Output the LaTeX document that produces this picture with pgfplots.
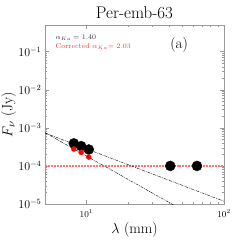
\documentclass[border=0pt]{standalone}
\usepackage{pgfplots}
\pgfplotsset{compat=1.18}
\begin{document}
\begin{tikzpicture}[x=1bp,y=1bp]
\useasboundingbox (-45,-45) rectangle (204,204);
\begin{axis}[
  at={(0,0)}, anchor=south west,
  scale only axis, width=179bp, height=179bp,
  xmode=log, ymode=log,
  xmin=5, xmax=100, ymin=1e-5, ymax=0.5,
  xtick={10,100}, ytick={1e-5,1e-4,1e-3,1e-2,1e-1},
  tick align=inside,
  major tick length=4bp, minor tick length=2bp,
  axis line style={gray!80},
  every tick/.style={gray!80, line width=0.4pt},
  xticklabel style={font=\fontsize{9}{9}\selectfont, yshift=-2bp},
  yticklabel style={font=\fontsize{12}{12}\selectfont},
  title={Per-emb-63},
  title style={font=\fontsize{17}{17}\selectfont, yshift=-3bp},
  xlabel={$\lambda$ (mm)},
  xlabel style={font=\fontsize{15}{15}\selectfont, yshift=2bp},
  ylabel={$F_\nu$ (Jy)},
  ylabel style={font=\fontsize{15}{15}\selectfont, yshift=-4.5bp},
  clip=true,
]
% horizontal dashed red line at 1e-4
\addplot[draw=red!55, line width=1.2pt, dash pattern=on 2pt off 1pt] coordinates {(5,1e-4) (100,1e-4)};
% fit lines
\addplot[black, thin, dash pattern=on 3pt off 1pt on 0.8pt off 1pt] coordinates {(5,7.3e-4) (100,1.18e-5)};
\addplot[black, thin, dash pattern=on 3pt off 1pt on 0.8pt off 1pt] coordinates {(5,7.45e-4) (100,1.7e-6)};
% black data points
\addplot[only marks, mark=*, mark size=5bp, black] coordinates {
  (8.1,3.9e-4) (9.16,3.3e-4) (10.4,2.7e-4) (40.7,1e-4) (63.6,1e-4)};
% red corrected points
\addplot[only marks, mark=*, mark size=2.5bp, red] coordinates {
  (8.1,2.77e-4) (9.16,2.27e-4) (10.4,1.71e-4)};
\node[anchor=west, font=\fontsize{7}{7}\selectfont, text=black!80] at (axis description cs:0.04,0.927) {$\alpha_{Ka}=1.40$};
\node[anchor=west, font=\fontsize{7}{7}\selectfont, text=red!80] at (axis description cs:0.04,0.877) {Corrected $\alpha_{Ka}$= 2.03};
\node[font=\fontsize{15}{15}\selectfont] at (axis description cs:0.749,0.888) {(a)};
\end{axis}
\end{tikzpicture}
\end{document}
